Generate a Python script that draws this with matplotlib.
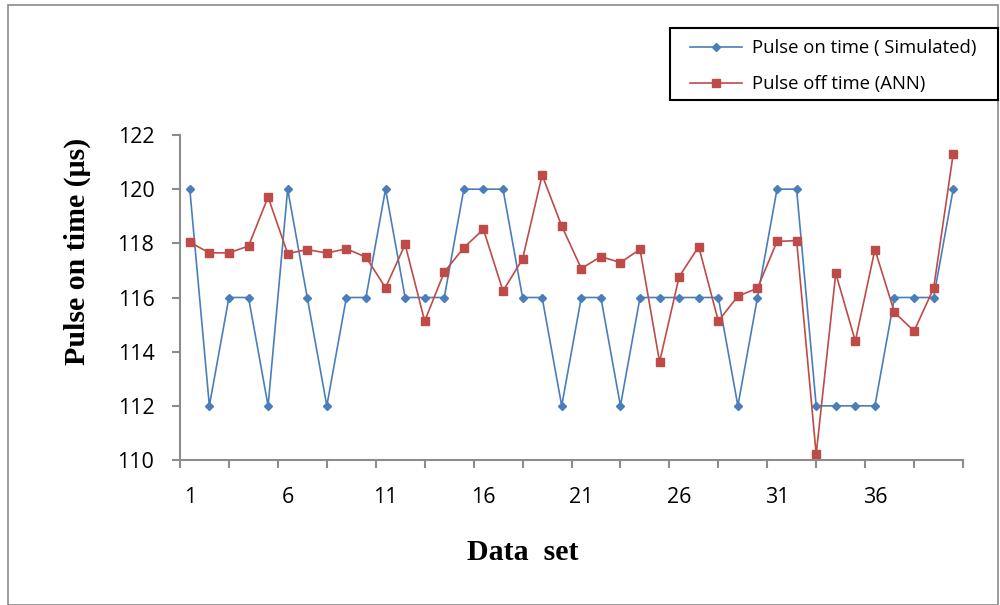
import matplotlib.pyplot as plt
from matplotlib.patches import Rectangle
from matplotlib.ticker import FixedLocator, MultipleLocator

# data sets 1..40
data_set = list(range(1, 41))

pulse_on_sim = [120, 112, 116, 116, 112, 120, 116, 112, 116, 116,
                120, 116, 116, 116, 120, 120, 120, 116, 116, 112,
                116, 116, 112, 116, 116, 116, 116, 116, 112, 116,
                120, 120, 112, 112, 112, 112, 116, 116, 116, 120]

pulse_off_ann = [118.04, 117.65, 117.65, 117.90, 119.71, 117.62, 117.77, 117.64, 117.80, 117.49,
                 116.36, 117.96, 115.13, 116.94, 117.84, 118.52, 116.24, 117.42, 120.52, 118.64,
                 117.07, 117.51, 117.29, 117.78, 113.62, 116.77, 117.88, 115.13, 116.05, 116.34,
                 118.07, 118.10, 110.21, 116.89, 114.39, 117.77, 115.45, 114.76, 116.34, 121.31]

x_labels = [1, 6, 11, 16, 21, 26, 31, 36]

tick_font = "Open Sans"
serif_font = "Liberation Serif"
axis_grey = "#8c8c8c"

W, H = 1000, 605
fig = plt.figure(figsize=(10, 6.05), dpi=100)
# outer chart border
fig.patches.append(Rectangle((0.008, 0.0), 0.99, 0.992, transform=fig.transFigure,
                             fill=False, edgecolor="#8a8a8a", linewidth=1.2))

ax = fig.add_axes([180 / W, 1 - 460 / H, 783 / W, 325 / H])

ax.plot(data_set, pulse_on_sim, color="#4a7ebb", linewidth=1.2, marker="D",
        markersize=4.5, markerfacecolor="#4a7ebb", markeredgecolor="#4a7ebb",
        label="Pulse on time ( Simulated)")
ax.plot(data_set, pulse_off_ann, color="#be4b48", linewidth=1.2, marker="s",
        markersize=5.5, markerfacecolor="#be4b48", markeredgecolor="#be4b48",
        label="Pulse off time (ANN)")

ax.set_xlim(0.5, 40.5)
ax.set_ylim(110, 122)
ax.yaxis.set_major_locator(MultipleLocator(2))

ax.xaxis.set_major_locator(FixedLocator(x_labels))
ax.xaxis.set_minor_locator(FixedLocator([0.5 + 2.5 * k for k in range(17)]))
ax.tick_params(axis="x", which="major", length=0, pad=19.5)
ax.tick_params(axis="x", which="minor", length=5.5, width=1.5, color=axis_grey, direction="out")
ax.tick_params(axis="y", length=5.5, width=1.5, color=axis_grey, direction="out", pad=13)

for lab in ax.get_xticklabels() + ax.get_yticklabels():
    lab.set_fontfamily(tick_font)
    lab.set_fontsize(15.5)

for side in ["top", "right"]:
    ax.spines[side].set_visible(False)
for side in ["left", "bottom"]:
    ax.spines[side].set_color(axis_grey)
    ax.spines[side].set_linewidth(1.5)

fig.text(77 / W, 1 - 251 / H, "Pulse on time (μs)", rotation=90, ha="center", va="center",
         fontfamily=serif_font, fontweight="bold", fontsize=21.5)
fig.text(523 / W, 1 - 553 / H, "Data  set", ha="center", va="center",
         fontfamily=serif_font, fontweight="bold", fontsize=21.5)

# legend box (drawn separately so it can reach the right edge like the original)
fig.patches.append(Rectangle((670 / W, 1 - 100 / H), 328 / W, 72 / H, transform=fig.transFigure,
                             fill=False, edgecolor="black", linewidth=1.5))
leg = fig.legend(loc="upper left", bbox_to_anchor=(690 / W, 1 - 39.5 / H), frameon=False,
                 prop={"family": tick_font, "size": 13.3},
                 handlelength=2.8, handletextpad=0.55, borderpad=0, labelspacing=0.95,
                 borderaxespad=0)

fig.savefig("out.png", dpi=100)
